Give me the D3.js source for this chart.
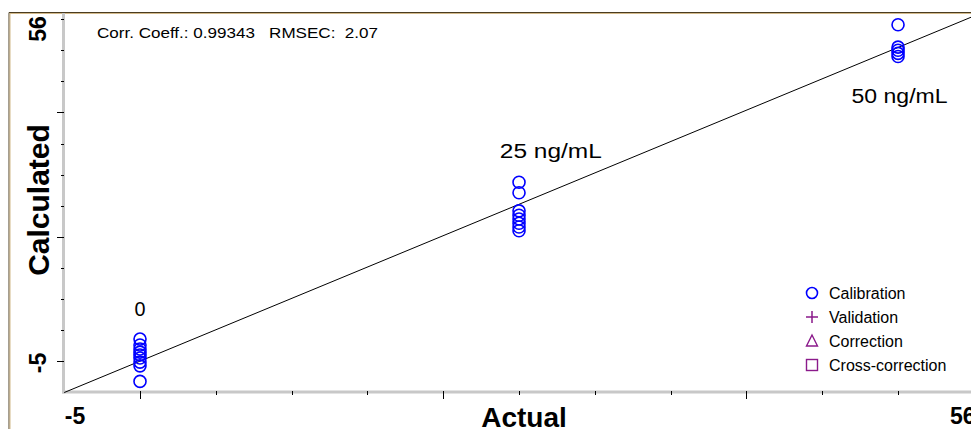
<!DOCTYPE html>
<html>
<head>
<meta charset="utf-8">
<script src="https://cdn.jsdelivr.net/npm/d3@7"></script>
<style>
  html, body { margin: 0; padding: 0; background: #fff; overflow: hidden; }
  svg { display: block; font-family: Arial, "Liberation Sans", sans-serif; }
</style>
</head>
<body>
<script>
// Calibration results: actual concentration (ng/mL) vs calculated value
const actual0  = [0, 0, 0, 0, 0, 0, 0, 0, 0];
const calc0    = [3.6, 2.65, 2.0, 1.5, 1.05, 0.55, -0.1, -0.7, -3.2];
const actual25 = [25, 25, 25, 25, 25, 25, 25, 25];
const calc25   = [28.8, 27.1, 24.2, 23.5, 22.9, 22.2, 21.6, 21.0];
const actual50 = [50, 50, 50, 50, 50];
const calc50   = [54.1, 50.5, 50.0, 49.5, 49.0];

const axisMin = -5, axisMax = 56;
const majorTicks = [0, 20, 40];
const minorTicks = [5, 10, 15, 25, 30, 35, 45, 50, 55];

const fitSlope = 1.008, fitIntercept = 0.05;
const statsText = "Corr. Coeff.: 0.99343   RMSEC:  2.07";

const groupLabels = [
  { text: "0", x: 0, y: 7.3, w: 11 },
  { text: "25 ng/mL", x: 27.1, y: 32.7, w: 102 },
  { text: "50 ng/mL", x: 50.1, y: 41.5, w: 96 }
];
const legendItems = ["Calibration", "Validation", "Correction", "Cross-correction"];

const W = 1010, H = 440;
const svg = d3.select("body").append("svg").attr("width", W).attr("height", H);

const x = d3.scaleLinear().domain([axisMin, axisMax]).range([64.2, 989]);
const y = d3.scaleLinear().domain([axisMin, axisMax]).range([392.6, 12.9]);

const blue = "#0000ff", purple = "#8b1a8b";

// outer frame (top and left edges)
svg.append("path").attr("d", "M9,440 V12.5 H1010").attr("fill", "none")
  .attr("stroke", "#4a3c20").attr("stroke-width", 1);
svg.append("path").attr("d", "M10,440 V13.5 H1010").attr("fill", "none")
  .attr("stroke", "#d2b98a").attr("stroke-width", 1);

// axis lines
svg.append("line").attr("x1", 63.5).attr("x2", 63.5).attr("y1", 13).attr("y2", 393.5)
  .attr("stroke", "#c8c8c8").attr("stroke-width", 3);
svg.append("line").attr("x1", 62).attr("x2", 1010).attr("y1", 392).attr("y2", 392)
  .attr("stroke", "#c8c8c8").attr("stroke-width", 3);

// ticks
const xt = svg.append("g");
xt.selectAll("line.minor").data(minorTicks).join("line")
  .attr("x1", d => Math.round(x(d)) + 0.5).attr("x2", d => Math.round(x(d)) + 0.5)
  .attr("y1", 391).attr("y2", 395).attr("stroke", "#000");
xt.selectAll("line.major").data(majorTicks).join("line")
  .attr("x1", d => Math.round(x(d)) + 0.5).attr("x2", d => Math.round(x(d)) + 0.5)
  .attr("y1", 391).attr("y2", 399).attr("stroke", "#000");
const yt = svg.append("g");
yt.selectAll("line.minor").data(minorTicks).join("line")
  .attr("y1", d => Math.round(y(d)) + 0.5).attr("y2", d => Math.round(y(d)) + 0.5)
  .attr("x1", 61).attr("x2", 64).attr("stroke", "#000");
yt.selectAll("line.major").data(majorTicks).join("line")
  .attr("y1", d => Math.round(y(d)) + 0.5).attr("y2", d => Math.round(y(d)) + 0.5)
  .attr("x1", 57).attr("x2", 64).attr("stroke", "#000");

// axis range labels
const rangeFont = 23;
svg.append("text").attr("x", 75).attr("y", 424).attr("text-anchor", "middle")
  .attr("font-size", rangeFont).attr("font-weight", "bold").attr("fill", "#000").text(axisMin);
svg.append("text").attr("x", 950).attr("y", 424).attr("text-anchor", "start")
  .attr("font-size", rangeFont).attr("font-weight", "bold").attr("fill", "#000").text(axisMax);
svg.append("text").attr("transform", "translate(46,363) rotate(-90)").attr("text-anchor", "middle")
  .attr("font-size", rangeFont).attr("font-weight", "bold").attr("fill", "#000").text(axisMin);
svg.append("text").attr("transform", "translate(46,29) rotate(-90)").attr("text-anchor", "middle")
  .attr("font-size", rangeFont).attr("font-weight", "bold").attr("fill", "#000").text(axisMax);

// axis titles
svg.append("text").attr("x", 524).attr("y", 427).attr("text-anchor", "middle")
  .attr("font-size", 28).attr("font-weight", "bold").attr("fill", "#000").text("Actual");
svg.append("text").attr("transform", "translate(49,200) rotate(-90)").attr("text-anchor", "middle")
  .attr("font-size", 30).attr("font-weight", "bold").attr("fill", "#000").text("Calculated");

// statistics
svg.append("text").attr("x", 97).attr("y", 38).attr("font-size", 15.5).attr("fill", "#000")
  .attr("textLength", 281).attr("lengthAdjust", "spacingAndGlyphs")
  .attr("xml:space", "preserve").style("white-space", "pre").text(statsText);

// regression line
svg.append("line")
  .attr("x1", x(axisMin)).attr("y1", y(fitIntercept + fitSlope * axisMin))
  .attr("x2", x(axisMax)).attr("y2", y(fitIntercept + fitSlope * axisMax))
  .attr("stroke", "#000").attr("stroke-width", 1);

// calibration points
const pts = [];
[[actual0, calc0], [actual25, calc25], [actual50, calc50]].forEach(([a, c]) => {
  a.forEach((v, i) => pts.push([v, c[i]]));
});
svg.append("g").selectAll("circle").data(pts).join("circle")
  .attr("cx", d => x(d[0])).attr("cy", d => y(d[1])).attr("r", 6)
  .attr("fill", "none").attr("stroke", blue).attr("stroke-width", 1.6);

// group labels
svg.append("g").selectAll("text").data(groupLabels).join("text")
  .attr("x", d => x(d.x)).attr("y", d => y(d.y)).attr("text-anchor", "middle")
  .attr("font-size", 20).attr("fill", "#000")
  .attr("textLength", d => d.w).attr("lengthAdjust", "spacingAndGlyphs")
  .text(d => d.text);

// legend
const lg = svg.append("g").attr("transform", "translate(812,293)");
const rowH = 24;
lg.append("circle").attr("cx", 0).attr("cy", 0).attr("r", 5.5)
  .attr("fill", "none").attr("stroke", blue).attr("stroke-width", 1.6);
lg.append("path").attr("d", `M-6,${rowH} H6 M0,${rowH - 6} V${rowH + 6}`)
  .attr("stroke", purple).attr("stroke-width", 1.5);
lg.append("path").attr("d", `M0,${2 * rowH - 6} L5.5,${2 * rowH + 5} L-5.5,${2 * rowH + 5} Z`)
  .attr("fill", "none").attr("stroke", purple).attr("stroke-width", 1.4);
lg.append("rect").attr("x", -5.5).attr("y", 3 * rowH - 5.5).attr("width", 11).attr("height", 11)
  .attr("fill", "none").attr("stroke", purple).attr("stroke-width", 1.4);
lg.selectAll("text").data(legendItems).join("text")
  .attr("x", 17).attr("y", (d, i) => i * rowH + 6)
  .attr("font-size", 16).attr("fill", "#000").text(d => d);
</script>
</body>
</html>
